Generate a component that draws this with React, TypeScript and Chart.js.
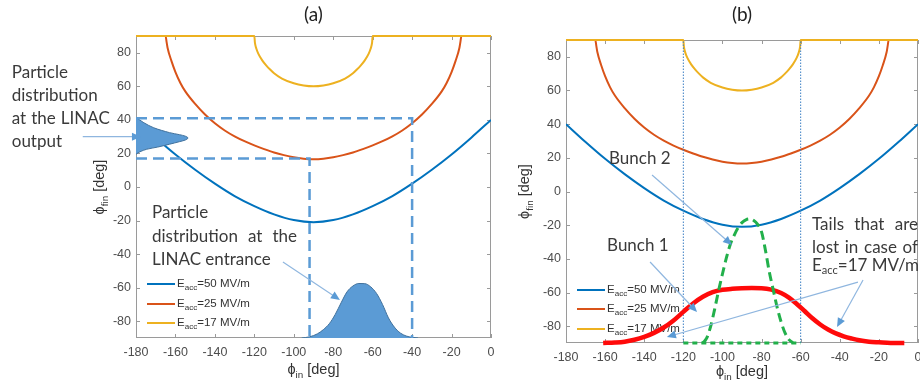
import React, { useEffect, useRef } from "react";
import { Chart, registerables } from "chart.js";

Chart.register(...registerables);

// ---------- data ----------
const xTickValues = [-180, -160, -140, -120, -100, -80, -60, -40, -20, 0];
const yTickValues = [-80, -60, -40, -20, 0, 20, 40, 60, 80];

// E_acc = 50 MV/m
const phiIn50 = [-180, -170, -160, -150, -140, -130, -120, -110, -100, -90, -80, -70, -60, -50, -40, -30, -20, -10, 0];
const phiFin50 = [40, 29.4, 19.4, 10.3, 2, -5.4, -11.4, -16.3, -19.7, -21, -19.7, -16.3, -11.4, -5.4, 2, 10.3, 19.4, 29.4, 40];

// E_acc = 25 MV/m
const phiIn25 = [-180, -165, -164.5, -164, -162, -160, -157.5, -155, -150, -145, -140, -135, -130, -125, -120, -115, -110, -105, -100, -95, -90,
  -85, -80, -75, -70, -65, -60, -55, -50, -45, -40, -35, -30, -25, -22.5, -20, -18, -16, -15.5, -15, 0];
const phiFin25 = [90, 90, 86.5, 83, 75, 68.5, 62, 57, 49.5, 43.2, 38, 33.7, 30.2, 27.3, 24.8, 22.6, 20.6, 19, 17.7, 16.9, 16.6,
  16.9, 17.7, 19, 20.6, 22.6, 24.8, 27.3, 30.2, 33.7, 38, 43.2, 49.5, 57, 62, 68.5, 75, 83, 86.5, 90, 90];

// E_acc = 17 MV/m
const phiIn17 = [-180, -120, -119.7, -119, -118, -116, -114, -112, -110, -106, -100, -95, -90, -85, -80, -74, -70, -68, -66, -64, -62, -61, -60.3, -60, 0];
const phiFin17 = [90, 90, 86, 82.5, 79.5, 75.5, 72.5, 70, 67.8, 64.6, 61.8, 60.5, 60, 60.5, 61.8, 64.6, 67.8, 70, 72.5, 75.5, 79.5, 82.5, 86, 90, 90];

// (a) particle distribution at the LINAC output (horizontal profile on the left axis)
const outDistIn = [-180, -176, -171, -163, -158, -155, -153.6, -155, -158, -163, -169, -174.6, -178, -180];
const outDistFin = [41.5, 38.3, 35.3, 32.4, 31.2, 30.3, 29.2, 28, 27, 25.5, 23.8, 22.5, 21, 19.5];

// (a) particle distribution at the LINAC entrance
const inDistIn = [-96, -92, -88, -85, -82, -79, -76, -73, -70, -67, -64, -61, -58, -55, -52, -49, -46, -43, -40, -37];
const inDistFin = [-90, -89.3, -87.5, -85, -81.5, -76, -69, -62.5, -59, -57.5, -57.6, -59.5, -63.5, -70, -78, -83.5, -87, -88.8, -89.6, -90];

// (a) phase windows
const outputWindow = [17, 41];
const entranceWindow = [-92, -40];

// (b) Bunch 1 (wide) and Bunch 2 (narrow)
const bunch1In = [-161, -155, -150, -145, -140, -135, -130, -125, -120, -115, -110, -105, -100, -95, -90, -85, -80, -75, -70, -66, -62, -58, -54, -50, -46, -42, -38, -34, -30, -25, -20, -14, -7];
const bunch1Fin = [-90, -89.7, -89.2, -88.1, -86.4, -84, -80.8, -76.6, -71.5, -66.5, -62.5, -59.8, -58.4, -57.8, -57.5, -57.4, -57.5, -58.3, -60.3, -63, -66.8, -71, -75.3, -79, -82, -84.3, -86, -87.3, -88.4, -89.2, -89.6, -90, -90];
const bunch2In = [-110, -108, -106, -104, -102, -100, -98, -96, -94, -92, -90, -88, -86, -84, -82, -80, -78, -76, -74, -72, -70, -68, -66, -64];
const bunch2Fin = [-90, -87, -80, -70, -59, -49, -39.5, -31.5, -26, -21.5, -18.5, -16.8, -16.3, -17.2, -19.5, -24, -35, -48, -58.5, -69, -77.5, -84, -88, -89.7];
const lostLimits = [-120, -60];
const baseFin = -90;

const legendLabels = ["=50 MV/m", "=25 MV/m", "=17 MV/m"];

// ---------- styles ----------
const C50 = "#0072BD";
const C25 = "#D95319";
const C17 = "#EDB120";
const DIST = "#5b9bd5";
const FONT_AX = "'Liberation Sans', Arial, 'DejaVu Sans', sans-serif";
const FONT_NOTE = "Lato, 'Open Sans', sans-serif";
const TXT = "#3a3a3a";
const TICKTXT = "#4d4d4d";
const BOX = "#9a9a9a";

const zip = (xs: number[], ys: number[]) => xs.map((x, i) => ({ x, y: ys[i] }));

const curve = (data: any, color: string, width = 2, extra: any = {}) => ({
  data,
  showLine: true,
  pointRadius: 0,
  borderColor: color,
  backgroundColor: color,
  borderWidth: width,
  fill: false,
  cubicInterpolationMode: "monotone",
  ...extra,
});

type Parts = [string, boolean][];

function drawRuns(ctx: CanvasRenderingContext2D, parts: Parts, x: number, y: number, size: number, family: string, center: boolean, color: string, subRatio = 0.68) {
  const sub = size * subRatio;
  ctx.fillStyle = color;
  ctx.textBaseline = "middle";
  ctx.textAlign = "left";
  const widths = parts.map(([t, s]) => {
    ctx.font = `${s ? sub : size}px ${family}`;
    return ctx.measureText(t).width;
  });
  let cx = center ? x - widths.reduce((a, b) => a + b, 0) / 2 : x;
  parts.forEach(([t, s], i) => {
    ctx.font = `${s ? sub : size}px ${family}`;
    ctx.fillText(t, cx, s ? y + size * 0.33 : y);
    cx += widths[i];
  });
}

function drawJustified(ctx: CanvasRenderingContext2D, words: string[], x0: number, x1: number, y: number) {
  const w = words.map((t) => ctx.measureText(t).width);
  const total = w.reduce((a, b) => a + b, 0);
  const gap = (x1 - x0 - total) / (words.length - 1);
  let cx = x0;
  ctx.textAlign = "left";
  words.forEach((t, i) => {
    ctx.fillText(t, cx, y);
    cx += w[i] + gap;
  });
}

function drawArrow(ctx: CanvasRenderingContext2D, x0: number, y0: number, x1: number, y1: number) {
  const ang = Math.atan2(y1 - y0, x1 - x0);
  const L = 9, H = 4;
  ctx.save();
  ctx.strokeStyle = "#8fb6df";
  ctx.lineWidth = 1.2;
  ctx.beginPath();
  ctx.moveTo(x0, y0);
  ctx.lineTo(x1 - Math.cos(ang) * L * 0.8, y1 - Math.sin(ang) * L * 0.8);
  ctx.stroke();
  ctx.fillStyle = DIST;
  ctx.beginPath();
  ctx.moveTo(x1, y1);
  ctx.lineTo(x1 - Math.cos(ang) * L - Math.sin(ang) * H, y1 - Math.sin(ang) * L + Math.cos(ang) * H);
  ctx.lineTo(x1 - Math.cos(ang) * L + Math.sin(ang) * H, y1 - Math.sin(ang) * L - Math.cos(ang) * H);
  ctx.closePath();
  ctx.fill();
  ctx.restore();
}

interface PanelCfg {
  title: string;
  yTitleGap: number;
  xTitleY: number;
  legendRows: number[]; // offsets from chart bottom
  notes: (ctx: CanvasRenderingContext2D, X: (v: number) => number, Y: (v: number) => number) => void;
}

function panelPlugin(cfg: PanelCfg) {
  return {
    id: "panel",
    beforeDatasetsDraw(chart: any) {
      const { ctx, chartArea: a, scales } = chart;
      const xs = scales.x, ys = scales.y;
      ctx.save();
      // box
      ctx.strokeStyle = BOX;
      ctx.lineWidth = 1;
      ctx.strokeRect(Math.round(a.left) + 0.5, Math.round(a.top) + 0.5, Math.round(a.right - a.left) - 1, Math.round(a.bottom - a.top) - 1);
      // inside ticks on all four sides
      ctx.beginPath();
      xTickValues.forEach((v) => {
        const px = Math.round(xs.getPixelForValue(v)) + 0.5;
        ctx.moveTo(px, a.bottom);
        ctx.lineTo(px, a.bottom - 4);
        ctx.moveTo(px, a.top);
        ctx.lineTo(px, a.top + 4);
      });
      yTickValues.forEach((v) => {
        const py = Math.round(ys.getPixelForValue(v)) + 0.5;
        ctx.moveTo(a.left, py);
        ctx.lineTo(a.left + 4, py);
        ctx.moveTo(a.right, py);
        ctx.lineTo(a.right - 4, py);
      });
      ctx.stroke();
      // legend
      const colors = [C50, C25, C17];
      cfg.legendRows.forEach((dy, i) => {
        const y = a.bottom - dy;
        ctx.strokeStyle = colors[i];
        ctx.lineWidth = 2;
        ctx.beginPath();
        ctx.moveTo(a.left + 11, y);
        ctx.lineTo(a.left + 39, y);
        ctx.stroke();
        drawRuns(ctx, [["E", false], ["acc", true], [legendLabels[i], false]], a.left + 41, y, 11.5, FONT_AX, false, "#333333", 0.7);
      });
      ctx.restore();
    },
    afterDatasetsDraw(chart: any) {
      const { ctx, chartArea: a, scales } = chart;
      const xs = scales.x, ys = scales.y;
      ctx.save();
      // panel title
      ctx.fillStyle = "#222222";
      ctx.font = `19px ${FONT_NOTE}`;
      ctx.textAlign = "center";
      ctx.textBaseline = "middle";
      ctx.fillText(cfg.title, (a.left + a.right) / 2, 15);
      // x title
      drawRuns(ctx, [["ϕ", false], ["in", true], [" [deg]", false]], (a.left + a.right) / 2, cfg.xTitleY, 14.5, FONT_AX, true, "#333333");
      // y title
      ctx.save();
      ctx.translate(a.left - cfg.yTitleGap, (a.top + a.bottom) / 2);
      ctx.rotate(-Math.PI / 2);
      drawRuns(ctx, [["ϕ", false], ["fin", true], [" [deg]", false]], 0, 0, 14.5, FONT_AX, true, "#333333");
      ctx.restore();
      cfg.notes(ctx, (v) => xs.getPixelForValue(v), (v) => ys.getPixelForValue(v));
      ctx.restore();
    },
  };
}

function scaleOpts(kind: "x" | "y", size: number, min: number, max: number, ticks: number[]) {
  return {
    type: "linear",
    min,
    max,
    grid: { display: false, drawTicks: false },
    border: { display: false },
    ticks: {
      color: TICKTXT,
      font: { family: FONT_AX, size: 12.5 },
      padding: kind === "x" ? 7 : 5,
      maxRotation: 0,
      autoSkip: false,
    },
    afterBuildTicks: (s: any) => {
      s.ticks = ticks.map((v) => ({ value: v }));
    },
    afterFit: (s: any) => {
      if (kind === "x") s.height = size;
      else s.width = size;
      s.paddingLeft = 0;
      s.paddingRight = 0;
      s.paddingTop = 0;
      s.paddingBottom = 0;
    },
  };
}

function leftNotes(ctx: CanvasRenderingContext2D, X: (v: number) => number, Y: (v: number) => number) {
  ctx.fillStyle = TXT;
  ctx.font = `17px ${FONT_NOTE}`;
  ctx.textBaseline = "middle";
  ctx.textAlign = "left";
  const x0 = X(-243);
  ctx.fillText("Particle", x0, Y(68.5));
  ctx.fillText("distribution", x0, Y(54.8));
  drawJustified(ctx, ["at", "the", "LINAC"], x0, x0 + 98, Y(41.1));
  ctx.fillText("output", x0, Y(27.4));
  drawArrow(ctx, X(-207), Y(30), X(-177.5), Y(30));

  const x1 = X(-171.9);
  ctx.fillStyle = TXT;
  ctx.font = `17px ${FONT_NOTE}`;
  ctx.textBaseline = "middle";
  ctx.fillText("Particle", x1, Y(-15.5));
  drawJustified(ctx, ["distribution", "at", "the"], x1, x1 + 145, Y(-29.8));
  ctx.fillText("LINAC entrance", x1, Y(-43.5));
  drawArrow(ctx, X(-105.5), Y(-44.7), X(-76.6), Y(-67.3));
}

function rightNotes(ctx: CanvasRenderingContext2D, X: (v: number) => number, Y: (v: number) => number) {
  ctx.fillStyle = TXT;
  ctx.font = `17px ${FONT_NOTE}`;
  ctx.textBaseline = "middle";
  ctx.textAlign = "left";
  ctx.fillText("Bunch 2", X(-158), Y(19.3));
  ctx.fillText("Bunch 1", X(-159), Y(-31.8));
  drawJustified(ctx, ["Tails", "that", "are"], X(-54.2), X(0), Y(-19.9));
  drawJustified(ctx, ["lost", "in", "case", "of"], X(-54.2), X(0), Y(-33));
  drawRuns(ctx, [["E", false], ["acc", true], ["=17 MV/m", false]], X(-54.2), Y(-43.7), 17, FONT_NOTE, false, TXT, 0.65);
  drawArrow(ctx, X(-136), Y(9.8), X(-95.1), Y(-31.8));
  drawArrow(ctx, X(-137), Y(-41.9), X(-113), Y(-71.6));
  drawArrow(ctx, X(-28.1), Y(-52.6), X(-41.4), Y(-80.5));
  drawArrow(ctx, X(-30.7), Y(-53.8), X(-128.4), Y(-86.4));
}

function commonOptions(pad: any, xH: number, yW: number) {
  return {
    responsive: false,
    animation: false,
    devicePixelRatio: 1,
    events: [],
    layout: { padding: pad },
    plugins: { legend: { display: false }, tooltip: { enabled: false }, title: { display: false } },
    scales: {
      x: scaleOpts("x", xH, -180, 0, xTickValues),
      y: scaleOpts("y", yW, -90, 90, yTickValues),
    },
  };
}

export default function App() {
  const leftRef = useRef<HTMLCanvasElement>(null);
  const rightRef = useRef<HTMLCanvasElement>(null);

  useEffect(() => {
    const left = new Chart(leftRef.current as HTMLCanvasElement, {
      type: "scatter",
      data: {
        datasets: [
          curve([{ x: -180, y: outputWindow[1] }, { x: entranceWindow[1], y: outputWindow[1] }, { x: entranceWindow[1], y: baseFin }], DIST, 2.5, { borderDash: [11, 6], cubicInterpolationMode: "default" }),
          curve([{ x: -180, y: outputWindow[0] }, { x: entranceWindow[0], y: outputWindow[0] }, { x: entranceWindow[0], y: baseFin }], DIST, 2.5, { borderDash: [11, 6], cubicInterpolationMode: "default" }),
          curve(zip(outDistIn, outDistFin), "#41719c", 1, { fill: "shape", backgroundColor: DIST, cubicInterpolationMode: "default", tension: 0.3 }),
          curve(zip(inDistIn, inDistFin), "#41719c", 1, { fill: "start", backgroundColor: DIST }),
          curve(zip(phiIn17, phiFin17), C17, 2, { clip: false }),
          curve(zip(phiIn25, phiFin25), C25),
          curve(zip(phiIn50, phiFin50), C50),
        ],
      },
      options: commonOptions({ left: 0, right: 9, top: 36, bottom: 0 }, 47, 136) as any,
      plugins: [panelPlugin({ title: "(a)", yTitleGap: 36, xTitleY: 370, legendRows: [54, 34, 15], notes: leftNotes })],
    });

    const right = new Chart(rightRef.current as HTMLCanvasElement, {
      type: "scatter",
      data: {
        datasets: [
          curve(zip(bunch2In, bunch2Fin), "#22b04b", 3, { borderDash: [9, 5], clip: false }),
          curve([{ x: lostLimits[0], y: baseFin }, { x: lostLimits[1], y: baseFin }], "#22b04b", 3, { borderDash: [5, 4], clip: false }),
          curve(zip(bunch1In, bunch1Fin), "#ff0a0a", 4.5, { clip: false }),
          curve([{ x: lostLimits[0], y: -90 }, { x: lostLimits[0], y: 90 }], "#3b7fc4", 1, { borderDash: [1.5, 1.5], cubicInterpolationMode: "default" }),
          curve([{ x: lostLimits[1], y: -90 }, { x: lostLimits[1], y: 90 }], "#3b7fc4", 1, { borderDash: [1.5, 1.5], cubicInterpolationMode: "default" }),
          curve(zip(phiIn17, phiFin17), C17, 2, { clip: false }),
          curve(zip(phiIn25, phiFin25), C25),
          curve(zip(phiIn50, phiFin50), C50),
        ],
      },
      options: commonOptions({ left: 0, right: 2, top: 40, bottom: 0 }, 42, 66) as any,
      plugins: [panelPlugin({ title: "(b)", yTitleGap: 41, xTitleY: 372, legendRows: [53, 34, 14], notes: rightNotes })],
    });

    return () => {
      left.destroy();
      right.destroy();
    };
  }, []);

  return (
    <div style={{ position: "absolute", left: 0, top: 0, width: 920, height: 385, background: "#ffffff", overflow: "hidden" }}>
      <canvas ref={leftRef} width={500} height={385} style={{ position: "absolute", left: 0, top: 0, width: 500, height: 385 }} />
      <canvas ref={rightRef} width={420} height={385} style={{ position: "absolute", left: 500, top: 0, width: 420, height: 385 }} />
    </div>
  );
}
